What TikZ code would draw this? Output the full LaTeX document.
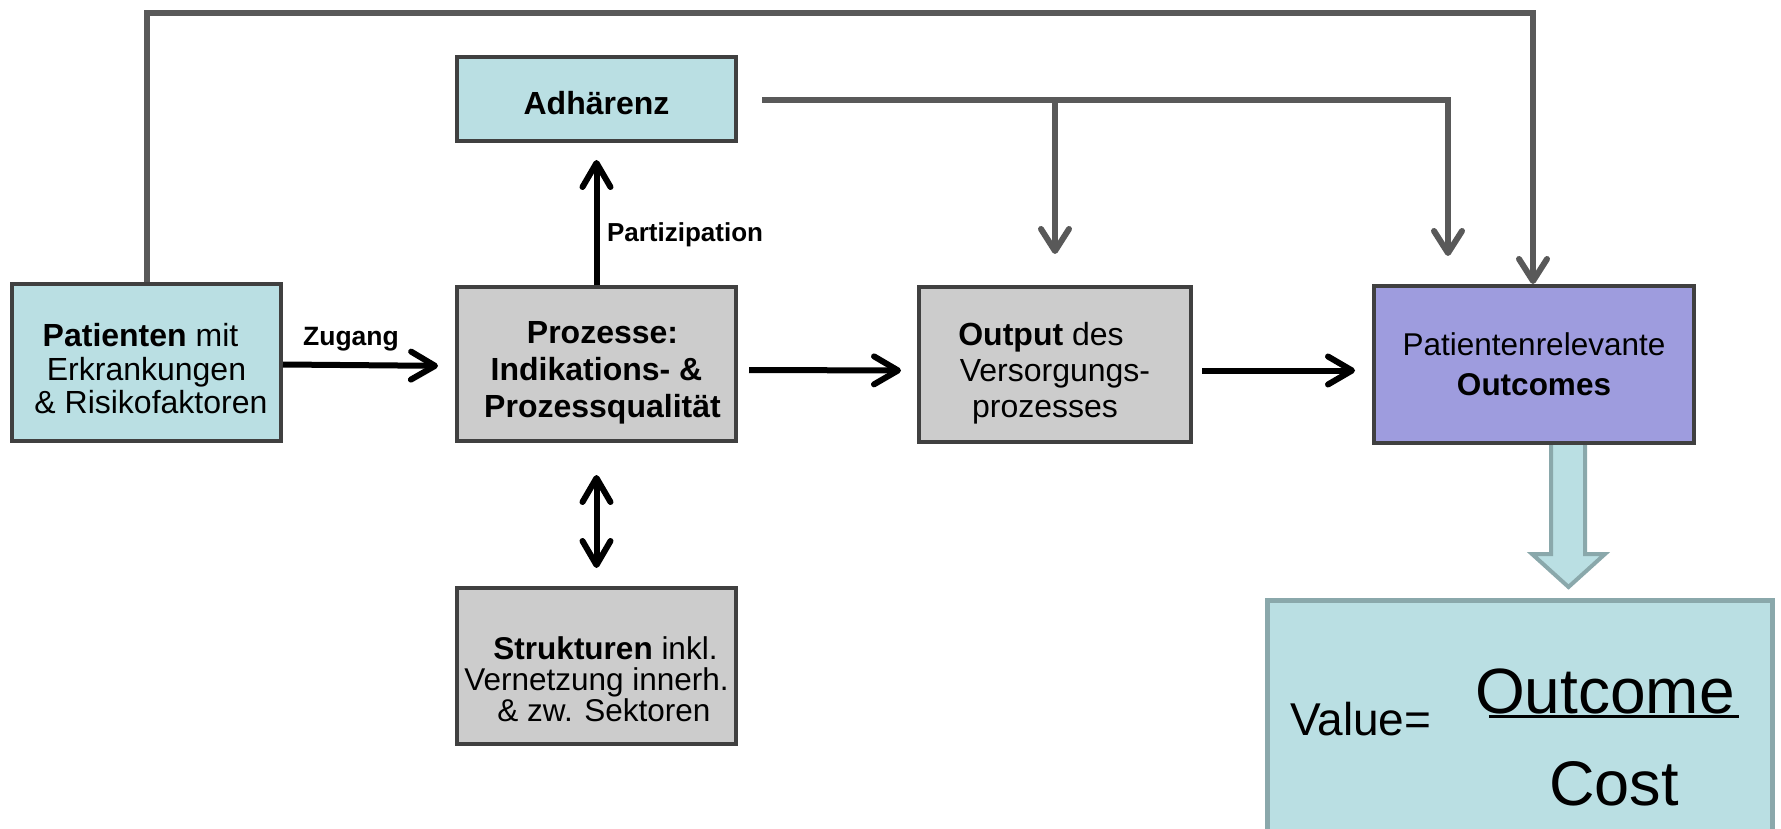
\documentclass[tikz,border=0pt]{standalone}
\usepackage{fontspec}
\setmainfont{Liberation Sans}
\usetikzlibrary{arrows.meta}

\definecolor{boxblue}{RGB}{186,223,227}
\definecolor{boxgray}{RGB}{204,204,204}
\definecolor{boxpurple}{RGB}{158,156,222}
\definecolor{rimdark}{RGB}{64,64,64}
\definecolor{linegray}{RGB}{89,89,89}
\definecolor{rimteal}{RGB}{138,168,171}

% invisible strut that makes a first text line taller,
% so the text block sits lower inside its box
\newcommand{\toppad}[1]{\rule{0pt}{#1}}

\begin{document}
\begin{tikzpicture}[x=1pt,y=-1pt,
  box/.style={draw=rimdark, line width=4pt, inner sep=0pt, align=center,
    font=\fontsize{32}{35.5}\selectfont},
  bluebox/.style={box, fill=boxblue},
  graybox/.style={box, fill=boxgray},
  purplebox/.style={box, fill=boxpurple},
  blackarrow/.style={draw=black, line width=6pt,
    -{Straight Barb[length=24pt,width=28pt,round]}},
  botharrow/.style={draw=black, line width=6pt,
    {Straight Barb[length=24pt,width=28pt,round]}-{Straight Barb[length=24pt,width=28pt,round]}},
  grayline/.style={draw=linegray, line width=6pt},
  grayarrow/.style={grayline, -{Straight Barb[length=22pt,width=28pt,round]}},
  edgelabel/.style={inner sep=0pt, font=\fontsize{26.5}{30}\selectfont\bfseries},
  bigarrow/.style={draw=rimteal, fill=boxblue, line width=4pt},
]
\useasboundingbox (0,0) rectangle (1781,829);

% hollow arrow from the outcomes to the value formula
\draw[bigarrow] (1551,440) -- (1551,554) -- (1532,554) -- (1568.5,587)
  -- (1605,554) -- (1585,554) -- (1585,440) -- cycle;

% value box, running off the lower edge
\node[draw=rimteal, fill=boxblue, line width=4.5pt, minimum width=505pt,
  minimum height=260pt, inner sep=0pt] (value) at (1520,730.5) {};

% boxes of the care chain
\node[bluebox, minimum width=269pt, minimum height=157pt,
  font=\fontsize{32}{33.3}\selectfont] (pat) at (146.5,362.5)
  {\toppad{35.5pt}\textbf{Patienten} mit\hspace*{12pt}\\Erkrankungen\\\ \& Risikofaktoren};
\node[bluebox, minimum width=279pt, minimum height=84pt,
  font=\fontsize{32}{35.5}\selectfont\bfseries]
  (adh) at (596.5,99) {\toppad{31.3pt}Adhärenz};
\node[graybox, minimum width=279pt, minimum height=154pt,
  font=\fontsize{32}{37}\selectfont\bfseries]
  (proz) at (596.5,364) {\toppad{38.7pt}Prozesse:\hspace*{-12pt}\\Indikations- \&\hspace*{-12pt}\\Prozessqualität\hspace*{-12pt}};
\node[graybox, minimum width=279pt, minimum height=156pt,
  font=\fontsize{31.5}{31}\selectfont]
  (struk) at (596.5,666) {\toppad{50pt}\textbf{Strukturen} inkl.\hspace*{-18pt}\\Vernetzung innerh.\hspace*{-20pt}\\\& zw. Sektoren\hspace*{-15pt}};
\node[graybox, minimum width=272pt, minimum height=155pt,
  font=\fontsize{32}{36}\selectfont]
  (out) at (1055,364.5) {\toppad{39.7pt}\textbf{Output} des\hspace*{28pt}\\Versorgungs-\hspace*{44pt}\\prozesses\hspace*{20pt}};
\node[purplebox, minimum width=320pt, minimum height=157pt, font=\fontsize{31.5}{40}\selectfont]
  (outc) at (1534,364.5) {Patientenrelevante\\\textbf{Outcomes}};

% black flow arrows
\draw[blackarrow, shorten >=17pt] ([yshift=-2pt]pat.east) -- ([yshift=-2pt]proz.west);
\draw[blackarrow, shorten <=11pt, shorten >=16pt] ([yshift=-6pt]proz.east) -- ([yshift=-6pt]out.west);
\draw[blackarrow, shorten <=9pt, shorten >=17pt] ([yshift=-6pt]out.east) -- ([yshift=-6pt]outc.west);
\draw[blackarrow, shorten >=17pt] (proz.north) -- (adh.south);
\draw[botharrow, shorten <=32pt, shorten >=18pt] (proz.south) -- (struk.north);

\node[edgelabel] (zug) at (351,339) {Zugang};
\node[edgelabel, font=\fontsize{26}{30}\selectfont\bfseries] (part) at (685,235) {Partizipation};

% grey feedback connectors
\coordinate (topy) at (0,13);
\draw[grayarrow] (pat.north) -- (pat.north |- topy) -| ([xshift=-1pt]outc.north);
\coordinate (tipM) at (1055,254);
\coordinate (tipR) at (1448,256);
\draw[grayarrow] ([xshift=24pt,yshift=-1pt]adh.east) -| (tipR);
\draw[grayarrow] (tipM |- adh.east) ++(0,1) -- (tipM);

% value formula
\node[anchor=base west, inner sep=0pt, font=\fontsize{46}{50}\selectfont]
  (vlab) at (1290,735) {Value=};
\node[anchor=base, inner sep=0pt, font=\fontsize{64}{70}\selectfont]
  (onum) at (1605,713) {Outcome};
\draw[line width=3pt] ([xshift=14pt,yshift=-3.5pt]onum.base west) -- ([xshift=4pt,yshift=-3.5pt]onum.base east);
\node[anchor=base, inner sep=0pt, font=\fontsize{63}{70}\selectfont]
  (cden) at (1614,805) {Cost};
\end{tikzpicture}
\end{document}
